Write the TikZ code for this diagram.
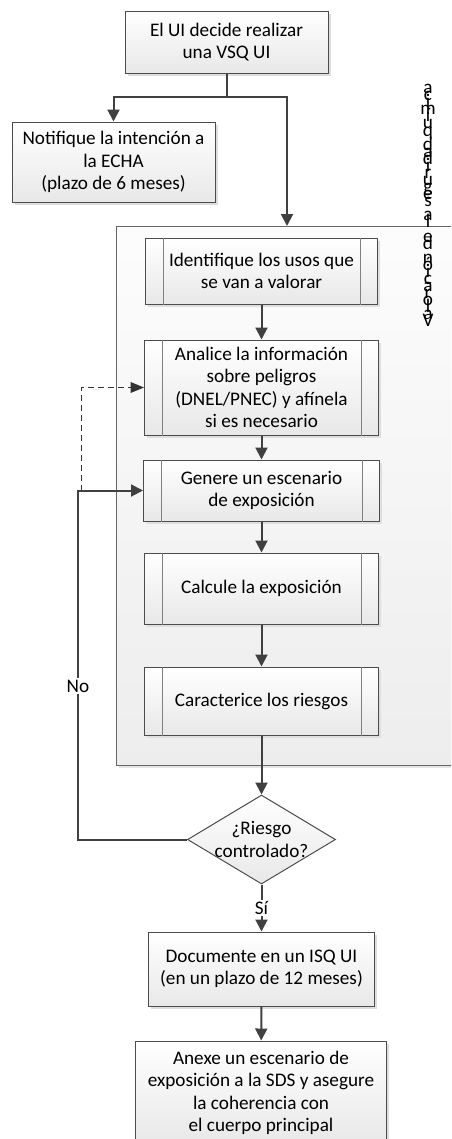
\documentclass[tikz,border=0pt]{standalone}
\usepackage{fontspec}
\setmainfont{Carlito}
\usetikzlibrary{arrows.meta,shapes.geometric,shadows,calc}

\newcommand\texto{\fontsize{14.4}{16.9}\selectfont}
\newcommand\apilado{\fontsize{14.4}{5.3}\selectfont\lineskiplimit=-100pt\lineskip=0pt}

\tikzset{
  wh/.style 2 args={minimum width=#1*0.75pt, minimum height=#2*0.75pt},
  caja/.style={draw=black!70, line width=0.75pt, top color=white, bottom color=black!9,
    inner sep=0pt, align=center, font=\texto,
    drop shadow={shadow xshift=2pt, shadow yshift=-2pt, fill=black!13, opacity=1}},
  proceso/.style={caja},
  decision/.style={diamond, draw=black!70, line width=0.75pt, top color=white,
    bottom color=black!9, inner sep=0pt, align=center, font=\texto},
  grupo/.style={draw=black!60, line width=0.75pt, top color=black!1, bottom color=black!7,
    drop shadow={shadow xshift=2pt, shadow yshift=-2pt, fill=black!10, opacity=1}},
  flecha/.style={draw=black!75, line width=1.5pt, -{Triangle[length=9pt,width=9pt]}},
  discont/.style={draw=black!80, line width=0.75pt, dash pattern=on 4.5pt off 3pt,
    -{Triangle[length=10pt,width=8pt]}},
  sep/.style={draw=black!50, line width=0.75pt},
  etiq/.style={fill=white, inner sep=1pt, font=\texto}
}

\begin{document}
\begin{tikzpicture}[x=0.75pt,y=-0.75pt]
\useasboundingbox (0,0) rectangle (451,1139);
\clip (0,0) rectangle (451,1139);
%% nodes
\node[caja, wh={203}{62}] (inicio) at (226.5,42) {El UI decide realizar\\una VSQ UI};
\node[caja, wh={203}{80}] (notifique) at (113.5,162) {Notifique la intención a\\la ECHA\\(plazo de 6 meses)};
\node[grupo, wh={354}{539}] (vsq) at (293,495.5) {};
\node[anchor=north, align=center, inner sep=0pt, font=\apilado] (titulo) at (428,84)
  {a\\c\\i\\m\\í\\u\\q\\ \\d\\a\\d\\i\\r\\u\\g\\e\\s\\ \\a\\l\\ \\e\\d\\ \\n\\ó\\i\\c\\a\\r\\o\\l\\a\\V};
\node[proceso, wh={232}{66}] (identifique) at (261.5,271) {Identifique los usos que\\se van a valorar};
\node[proceso, wh={234}{95}] (analice) at (261.5,387.5) {Analice la información\\sobre peligros\\(DNEL/PNEC) y afínela\\si es necesario};
\node[proceso, wh={236}{61}] (genere) at (261.5,490.5) {Genere un escenario\\de exposición};
\node[proceso, wh={234}{71}] (calcule) at (261.5,588.5) {Calcule la exposición};
\node[proceso, wh={234}{68}] (caracterice) at (261.5,701) {Caracterice los riesgos};
\node[decision, wh={148}{89}, label={[font=\texto, align=center]center:¿Riesgo\\controlado?}] (riesgo) at (261.5,839.5) {};
\node[caja, wh={226}{74}] (documente) at (261.5,969) {Documente en un ISQ UI\\(en un plazo de 12 meses)};
\node[caja, wh={251}{104}] (anexe) at (261,1093) {Anexe un escenario de\\exposición a la SDS y asegure\\la coherencia con\\el cuerpo principal};
\foreach \n in {identifique,analice,genere,calcule,caracterice} {
  \draw[sep] ($(\n.north west)+(18,0)$) -- ($(\n.south west)+(18,0)$);
  \draw[sep] ($(\n.north east)+(-18,0)$) -- ($(\n.south east)+(-18,0)$);
}
\coordinate (reparto) at (226.5,97);
\coordinate (entrada) at (287,226);
\coordinate (bucle) at (78,490.5);
\coordinate (rama) at (81,490.5);
%%% edges
\draw[flecha] (inicio.south) -- (reparto) -| (notifique.north);
\draw[flecha] (reparto) -| (entrada);
\draw[flecha] (identifique) -- (analice);
\draw[flecha] (analice) -- (genere);
\draw[flecha] (genere) -- (calcule);
\draw[flecha] (calcule) -- (caracterice);
\draw[flecha] (caracterice) -- (riesgo);
\draw[discont] (rama) |- (analice.west);
\draw[flecha] (riesgo.west) -| (bucle) node[etiq, pos=0.72] (no) {No} -- (genere.west);
\draw[flecha] (riesgo) -- (documente) node[etiq, midway] (si) {Sí};
\draw[flecha] (documente) -- (anexe);
\end{tikzpicture}
\end{document}
